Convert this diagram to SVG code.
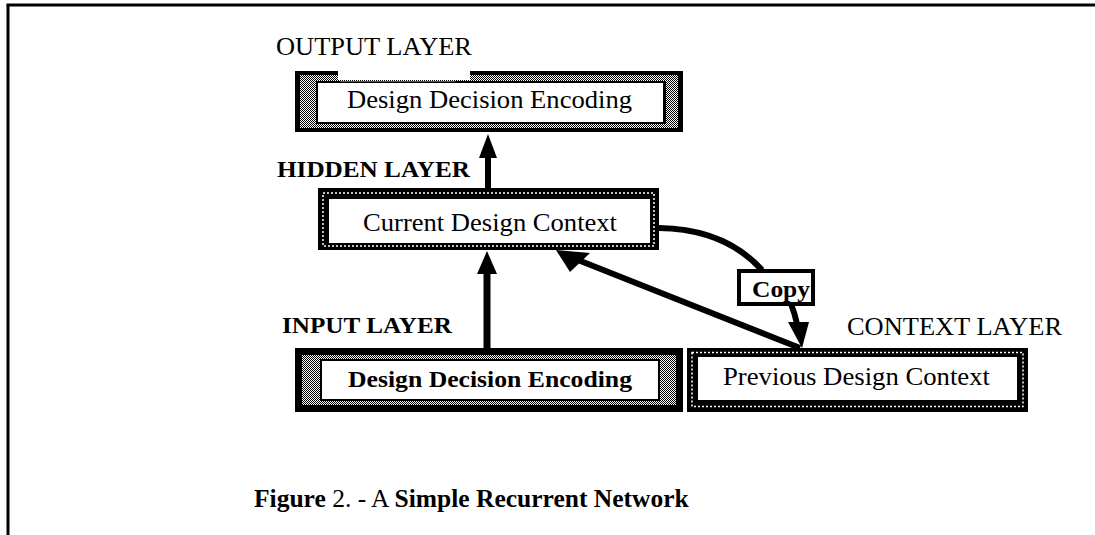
<svg xmlns="http://www.w3.org/2000/svg" width="1095" height="535" viewBox="0 0 1095 535">
<style>
.reg{font-family:"Liberation Serif","Times New Roman",serif;fill:#000}
.bld{font-family:"Liberation Serif","Times New Roman",serif;font-weight:bold;fill:#000}
.ln{stroke:#000;fill:none;stroke-linecap:butt}
.hd{fill:#000;stroke:none}
.dots{fill:none;stroke:#fff;stroke-width:1.5;stroke-dasharray:2 2}
</style>
<defs>
<pattern id="stip" x="0" y="0" width="2" height="2" patternUnits="userSpaceOnUse">
<rect width="2" height="2" fill="#fff"/>
<rect x="0" y="0" width="1" height="1" fill="#000"/>
<rect x="1" y="1" width="1" height="1" fill="#000"/>
</pattern>
</defs>
<rect width="1095" height="535" fill="#fff"/>
<g id="frame">
<line class="ln" x1="8" y1="5" x2="8" y2="535" stroke-width="3"/>
<line class="ln" x1="6.5" y1="5" x2="1095" y2="5" stroke-width="3"/>
</g>

<g id="output-layer">
<text class="reg" x="276" y="55" font-size="25.5" textLength="196" lengthAdjust="spacingAndGlyphs">OUTPUT LAYER</text>
<rect x="295" y="71" width="388" height="61" fill="#000"/>
<rect x="300" y="75" width="378" height="53" fill="url(#stip)"/>
<rect x="316" y="81" width="350" height="43" fill="#000"/>
<rect x="318" y="83" width="345" height="39" fill="#fff"/>
<rect x="338" y="70" width="132" height="10" fill="#fff"/>
<line x1="340" y1="81.5" x2="455" y2="81.5" stroke="#555" stroke-width="1"/>
<text class="reg" x="347" y="108" font-size="25" textLength="285" lengthAdjust="spacingAndGlyphs">Design Decision Encoding</text>
</g>

<g id="hidden-layer">
<text class="bld" x="277" y="177" font-size="24" textLength="193" lengthAdjust="spacingAndGlyphs">HIDDEN LAYER</text>
<rect x="318" y="188" width="341" height="62" fill="#000"/>
<rect class="dots" x="323" y="193" width="331" height="53"/>
<rect x="329" y="199" width="321" height="44" fill="#fff"/>
<text class="reg" x="363" y="231" font-size="25" textLength="254" lengthAdjust="spacingAndGlyphs">Current Design Context</text>
</g>

<g id="copy">
<rect x="739" y="271" width="74" height="33" fill="#fff" stroke="#000" stroke-width="4"/>
<text class="bld" x="752" y="297" font-size="24" textLength="58" lengthAdjust="spacingAndGlyphs">Copy</text>
</g>

<g id="input-layer">
<text class="bld" x="282" y="333" font-size="24" textLength="170" lengthAdjust="spacingAndGlyphs">INPUT LAYER</text>
<rect x="295" y="348" width="388" height="64" fill="#000"/>
<rect x="302" y="355" width="374" height="50" fill="url(#stip)"/>
<rect x="320" y="359" width="340" height="42" fill="#000"/>
<rect x="322" y="361" width="336" height="38" fill="#fff"/>
<text class="bld" x="348" y="387" font-size="24" textLength="284" lengthAdjust="spacingAndGlyphs">Design Decision Encoding</text>
</g>

<g id="context-layer">
<text class="reg" x="847" y="335" font-size="25" textLength="215" lengthAdjust="spacingAndGlyphs">CONTEXT LAYER</text>
<rect x="687" y="348" width="341" height="64" fill="#000"/>
<rect class="dots" x="692" y="352.5" width="331" height="54"/>
<rect x="698" y="357" width="319" height="43" fill="#fff"/>
<text class="reg" x="723" y="385" font-size="25" textLength="267" lengthAdjust="spacingAndGlyphs">Previous Design Context</text>
</g>

<g id="connectors">
<line class="ln" x1="488" y1="188" x2="488" y2="156" stroke-width="6"/>
<polygon class="hd" points="488,134 479,158 497,158"/>
<line class="ln" x1="487" y1="348" x2="487" y2="272" stroke-width="7"/>
<polygon class="hd" points="487,251 477,274 497,274"/>
<path class="ln" d="M659,228 Q725,229 762,270" stroke-width="6"/>
<path class="ln" d="M791,304 Q795,314 797,324" stroke-width="6"/>
<polygon class="hd" points="788,322 809,322 802,348"/>
<line class="ln" x1="800" y1="348" x2="578" y2="260" stroke-width="6"/>
<polygon class="hd" points="556,250 590,253 570,272"/>
</g>

<g id="caption">
<text class="reg" x="254" y="507" font-size="25.5"><tspan font-weight="bold">Figure</tspan> 2. - A <tspan font-weight="bold">Simple Recurrent Network</tspan></text>
</g>
</svg>
